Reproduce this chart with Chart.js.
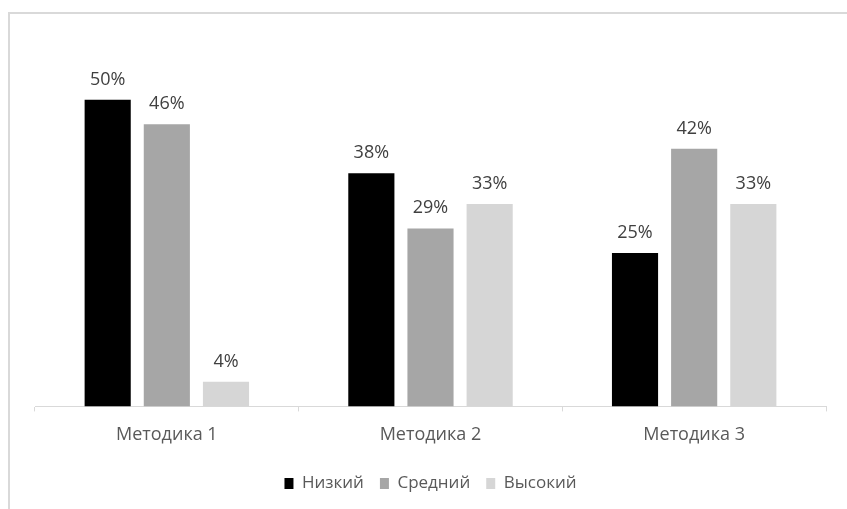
<!DOCTYPE html>
<html>
<head>
<meta charset="utf-8">
<script src="https://cdn.jsdelivr.net/npm/chart.js@4"></script>
<style>
  html, body { margin: 0; padding: 0; background: #fff; }
  #wrap { position: relative; width: 847px; height: 509px; overflow: hidden; }
  #frame { position: absolute; left: 8px; top: 12px; width: 900px; height: 600px;
           border-left: 2px solid #d9d9d9; border-top: 2px solid #d9d9d9; }
  canvas { position: absolute; left: 0; top: 0; }
</style>
</head>
<body>
<div id="wrap">
  <div id="frame"></div>
  <canvas id="myChart" width="847" height="509"></canvas>
</div>
<script>
const categories = ['Методика 1', 'Методика 2', 'Методика 3'];
const lowValues = [50, 38, 25];     // Низкий
const midValues = [46, 29, 42];     // Средний
const highValues = [4, 33, 33];     // Высокий

const FONT = '"Open Sans", sans-serif';

// draws the percent labels over each bar
const valueLabels = {
    id: 'valueLabels',
    afterDatasetsDraw(chart) {
        const ctx = chart.ctx;
        ctx.save();
        ctx.font = '18px ' + FONT;
        ctx.fillStyle = '#404040';
        ctx.textAlign = 'center';
        ctx.textBaseline = 'alphabetic';
        chart.data.datasets.forEach((ds, i) => {
            chart.getDatasetMeta(i).data.forEach((bar, j) => {
                ctx.fillText(ds.data[j] + '%', bar.x, bar.y - 15);
            });
        });
        ctx.restore();
    }
};

document.addEventListener('DOMContentLoaded', () => {
    const GRAPH = document.getElementById('myChart').getContext('2d');
    window.myGraph = new Chart(GRAPH, {
        type: 'bar',
        data: {
            labels: categories,
            datasets: [
                { label: 'Низкий', data: lowValues, backgroundColor: '#000000' },
                { label: 'Средний', data: midValues, backgroundColor: '#a6a6a6' },
                { label: 'Высокий', data: highValues, backgroundColor: '#d6d6d6' }
            ]
        },
        options: {
            responsive: false,
            animation: false,
            categoryPercentage: 0.673,
            barPercentage: 0.78,
            layout: { padding: { left: 35, right: 21, top: 69, bottom: 7 } },
            scales: {
                y: { display: false, min: 0, max: 55 },
                x: {
                    border: { display: true, color: '#d9d9d9', width: 1 },
                    grid: { display: true, drawOnChartArea: false, drawTicks: true,
                            tickLength: 5, color: '#d9d9d9', offset: true },
                    ticks: { color: '#595959', font: { family: FONT, size: 18 }, padding: 13 }
                }
            },
            plugins: {
                tooltip: { enabled: false },
                legend: {
                    position: 'bottom',
                    labels: {
                        color: '#595959',
                        font: { family: FONT, size: 17 },
                        boxWidth: 9,
                        boxHeight: 11,
                        padding: 16
                    }
                }
            }
        },
        plugins: [valueLabels]
    });
});
</script>
</body>
</html>
